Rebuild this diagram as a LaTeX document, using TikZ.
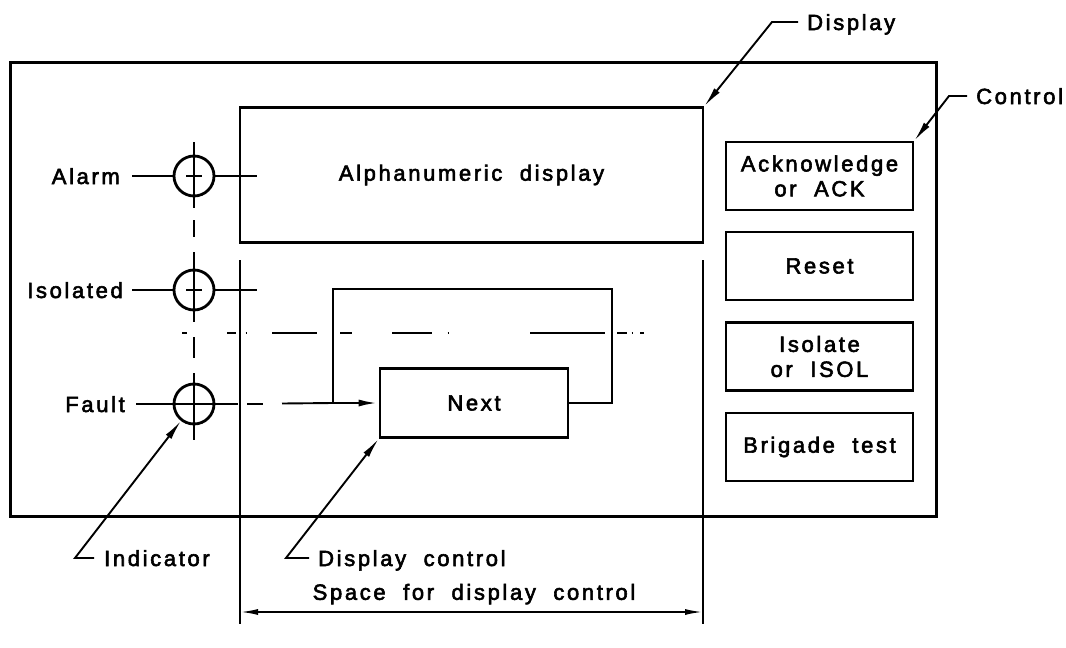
\documentclass[tikz,border=0pt]{standalone}
\usepackage{fontspec}
\setmainfont{Liberation Sans}[LetterSpace=12,WordSpace=2,FakeBold=2.6]
\usetikzlibrary{arrows.meta}
\begin{document}
\begin{tikzpicture}[x=1pt,y=-1pt,
  lbl/.style={font=\fontsize{22}{25}\selectfont, inner sep=0pt, text height=16pt, text depth=0pt},
  box/.style={draw, line width=2.8pt, rectangle, inner sep=0pt, align=center, font=\fontsize{22}{25}\selectfont},
  ind/.style={draw, circle, line width=2.8pt, minimum size=40pt, inner sep=0pt},
  thinln/.style={line width=1.9pt},
  thickln/.style={line width=2.6pt},
  tip/.style={-{Latex[length=20pt,width=7pt]}},
]
\useasboundingbox (0,0) rectangle (1066,648);
% outer frame
\draw[line width=3pt] (10,62) rectangle (936,516);
% display and buttons
\node[box, minimum width=463pt, minimum height=135pt] (disp) at (471.5,175) {Alphanumeric display};
\node[box, minimum width=187pt, minimum height=68pt] (ack) at (819.5,176) {Acknowledge\\or ACK};
\node[box, minimum width=187pt, minimum height=68pt] (reset) at (819.5,266) {Reset};
\node[box, minimum width=187pt, minimum height=68pt] (isol) at (819.5,356.5) {Isolate\\or ISOL};
\node[box, minimum width=187pt, minimum height=68pt] (brig) at (819.5,447) {Brigade test};
\node[box, minimum width=188pt, minimum height=69pt] (next) at (474,403) {Next};
% indicators
\node[ind] (alarmc) at (194,176) {};
\node[ind] (isoc) at (194,290) {};
\node[ind] (faultc) at (194,404) {};
\node[lbl, anchor=east] (alarml) at (120,176) {Alarm};
\node[lbl, anchor=east] (isolb) at (123,290) {Isolated};
\node[lbl, anchor=east] (faultl) at (125,404) {Fault};
% label lines
\coordinate (alarmr) at (257,176);
\coordinate (isor) at (257,290);
\draw[thinln] ([xshift=12pt]alarml.east) -- (alarmc.west);
\draw[thinln] (alarmc.east) -- (alarmr);
\draw[thinln] ([xshift=9pt]isolb.east) -- (isoc.west);
\draw[thinln] (isoc.east) -- (isor);
\draw[thinln] ([xshift=11pt]faultl.east) -- (238,404);
\draw[thinln] (247,404) -- (263,404);
% small crosses
\draw[thinln] ([xshift=-8pt]alarmc.center) -- ([xshift=8pt]alarmc.center);
\draw[thinln] ([xshift=-8pt]isoc.center) -- ([xshift=8pt]isoc.center);
% vertical centre line
\draw[thinln] (194,142) -- (194,208);
\draw[thinln] (194,220) -- (194,237);
\draw[thinln] (194,252) -- (194,322);
\draw[thinln] (194,337) -- (194,358);
\draw[thinln] (194,373) -- (194,440);
% chain line
\foreach \a/\b in {182/187,227/236,245.5/247,272/317,340/352,392/432,447.5/449,530/605,617/627,631.5/633,640/644}
  \draw[line width=1.7pt] (\a,333) -- (\b,333);
% loop
\coordinate (join) at (333,403);
\draw[thickln] (next.east) -- (612,403) -- (612,289) -- (333,289) -- (join);
\draw[thinln] (282,403.5) -- (join);
\draw[thickln, tip] (join) -- (next.west);
% space verticals and dimension
\draw[line width=2pt] (240,260) -- (240,624);
\draw[line width=2pt] (703,260) -- (703,624);
\coordinate (dl) at (240,612);
\coordinate (dr) at (703,612);
\draw[thinln, {Latex[length=18pt,width=6pt]}-{Latex[length=18pt,width=6pt]}] (dl) -- (dr);
\node[lbl, anchor=south] (spc) at (474,600) {Space for display control};
% leaders
\node[lbl, anchor=west] (indl) at (104,558) {Indicator};
\coordinate (indk) at (75,558);
\draw[thinln, tip] ([xshift=-10pt]indl.west) -- (indk) -- (faultc);
\node[lbl, anchor=west] (dcl) at (318,558) {Display control};
\coordinate (dck) at (286,558);
\draw[thinln, tip] ([xshift=-9pt]dcl.west) -- (dck) -- (next.south west);
\node[lbl, anchor=west] (displ) at (807,22) {Display};
\coordinate (dispk) at (772,22);
\draw[thinln, tip] ([xshift=-9pt]displ.west) -- (dispk) -- (disp.north east);
\node[lbl, anchor=west] (ctrll) at (976,96) {Control};
\coordinate (ctrlk) at (949,96);
\draw[thinln, tip] ([xshift=-9pt]ctrll.west) -- (ctrlk) -- (ack.north east);
\end{tikzpicture}
\end{document}
